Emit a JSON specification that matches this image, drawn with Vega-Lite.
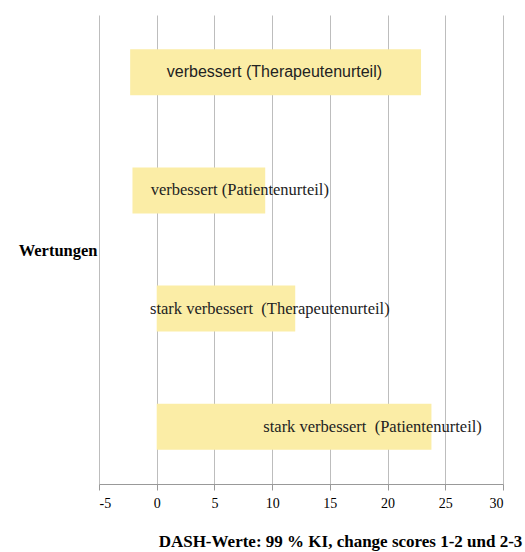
{
  "$schema": "https://vega.github.io/schema/vega-lite/v6.json",
  "autosize": {"type": "none"},
  "width": 404,
  "height": 469,
  "padding": {"left": 99, "top": 15, "right": 22, "bottom": 68},
  "background": "white",
  "config": {"view": {"stroke": null}},
  "data": {
    "values": [
      {"cat": "verbessert (Therapeutenurteil)", "lo": -2.3, "hi": 22.9, "mid": 10.2, "order": 1},
      {"cat": "verbessert (Patientenurteil)", "lo": -2.1, "hi": 9.4, "mid": 7.2, "order": 2},
      {"cat": "stark verbessert\u00a0\u00a0(Therapeutenurteil)", "lo": 0, "hi": 12.0, "mid": 9.8, "order": 3},
      {"cat": "stark verbessert\u00a0\u00a0(Patientenurteil)", "lo": 0, "hi": 23.8, "mid": 18.7, "order": 4}
    ]
  },
  "encoding": {
    "y": {
      "field": "cat", "type": "nominal",
      "sort": {"field": "order"},
      "scale": {"paddingInner": 0.61, "paddingOuter": 0.29},
      "axis": {
        "title": "Wertungen", "labels": false, "ticks": false, "domain": false, "grid": false,
        "titleAngle": 0, "titleAlign": "right", "titleBaseline": "middle",
        "titleX": -2, "titleY": 235,
        "titleFont": "Liberation Serif", "titleFontSize": 16.5, "titleFontWeight": "bold", "titleColor": "#000"
      }
    }
  },
  "layer": [
    {
      "mark": {"type": "bar", "color": "#FBEDA6"},
      "encoding": {
        "x": {
          "field": "lo", "type": "quantitative",
          "scale": {"domain": [-5, 30], "nice": false, "zero": false},
          "axis": {
            "title": "DASH-Werte: 99 % KI, change scores 1-2 und 2-3",
            "values": [-5, 0, 5, 10, 15, 20, 25, 30],
            "labelExpr": "'' + datum.value",
            "grid": true, "gridColor": "#bdbdbd", "gridWidth": 1,
            "domainColor": "#999", "tickColor": "#999", "tickSize": 6,
            "labelFont": "Liberation Serif", "labelFontSize": 14, "labelColor": "#000", "labelPadding": 6,
            "titleFont": "Liberation Serif", "titleFontSize": 17, "titleFontWeight": "bold", "titleColor": "#000",
            "titleX": 241, "titleY": 57, "titleAlign": "center", "titleBaseline": "middle"
          }
        },
        "x2": {"field": "hi"}
      }
    },
    {
      "transform": [{"filter": "datum.order == 1"}],
      "mark": {"type": "text", "font": "Liberation Sans", "fontSize": 16, "color": "#222", "align": "center", "baseline": "middle"},
      "encoding": {
        "x": {"field": "mid", "type": "quantitative"},
        "text": {"field": "cat"}
      }
    },
    {
      "transform": [{"filter": "datum.order != 1"}],
      "mark": {"type": "text", "font": "Liberation Serif", "fontSize": 16.5, "color": "#222", "align": "center", "baseline": "middle"},
      "encoding": {
        "x": {"field": "mid", "type": "quantitative"},
        "text": {"field": "cat"}
      }
    }
  ]
}
